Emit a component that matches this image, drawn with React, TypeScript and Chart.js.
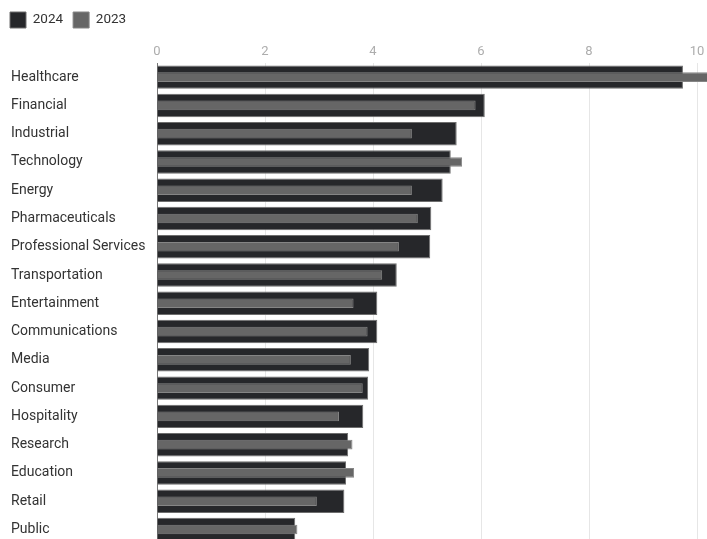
import React, { useEffect, useRef } from "react";
import { Chart, registerables } from "chart.js";

Chart.register(...registerables);

const categories = [
  "Healthcare",
  "Financial",
  "Industrial",
  "Technology",
  "Energy",
  "Pharmaceuticals",
  "Professional Services",
  "Transportation",
  "Entertainment",
  "Communications",
  "Media",
  "Consumer",
  "Hospitality",
  "Research",
  "Education",
  "Retail",
  "Public",
];

const values2024 = [9.74, 6.07, 5.55, 5.44, 5.29, 5.08, 5.06, 4.44, 4.08, 4.08, 3.93, 3.91, 3.82, 3.54, 3.5, 3.47, 2.56];
const values2023 = [10.3, 5.9, 4.72, 5.65, 4.72, 4.83, 4.48, 4.17, 3.64, 3.9, 3.59, 3.81, 3.37, 3.62, 3.65, 2.96, 2.6];

const seriesLabels = ["2024", "2023"];
const xMin = 0;
const xMax = 12;
const xStep = 2;

const FONT = "Roboto, 'Noto Sans', sans-serif";

export default function App() {
  const ref = useRef<HTMLCanvasElement>(null);

  useEffect(() => {
    document.body.style.margin = "0";
    document.body.style.overflow = "hidden";
    const shiftLegend = {
      id: "shiftLegend",
      afterLayout(chart: any) {
        if (chart.legend) chart.legend.left = 0;
      },
    };
    const chart = new Chart(ref.current!, {
      type: "bar",
      data: {
        labels: categories,
        datasets: [
          {
            label: seriesLabels[0],
            data: values2024,
            backgroundColor: "#26272a",
            borderColor: "#6e6e6e",
            borderWidth: 1,
            barPercentage: 0.83,
            categoryPercentage: 1,
            grouped: false,
            order: 1,
          },
          {
            label: seriesLabels[1],
            data: values2023,
            backgroundColor: "#666666",
            borderColor: "#858585",
            borderWidth: 1,
            barPercentage: 0.34,
            categoryPercentage: 1,
            grouped: false,
            order: 0,
          },
        ],
      },
      options: {
        indexAxis: "y",
        responsive: false,
        maintainAspectRatio: false,
        devicePixelRatio: 1,
        animation: false,
        layout: { padding: { left: 11, top: 2, right: 15, bottom: 2 } },
        plugins: {
          legend: {
            position: "top",
            align: "start",
            labels: {
              boxWidth: 16,
              boxHeight: 16,
              padding: 10,
              color: "#333",
              font: { family: FONT, size: 13.5 },
              sort: (a: any, b: any) => a.datasetIndex - b.datasetIndex,
            },
          },
          tooltip: { enabled: false },
        },
        scales: {
          x: {
            type: "linear",
            position: "top",
            min: xMin,
            max: xMax,
            afterFit: (scale: any) => {
              scale.height = 25;
            },
            ticks: {
              stepSize: xStep,
              padding: 3,
              color: "#adadad",
              font: { family: FONT, size: 13 },
            },
            grid: { color: "#e6e6e6", drawTicks: false },
            border: { display: false },
          },
          y: {
            type: "category",
            afterFit: (scale: any) => {
              scale.width = 146;
            },
            ticks: {
              crossAlign: "far",
              color: "#333",
              font: { family: FONT, size: 14 },
            },
            grid: { display: false },
            border: { display: true, color: "#777", width: 1 },
          },
        },
      } as any,
      plugins: [shiftLegend],
    });
    return () => chart.destroy();
  }, []);

  return (
    <div
      style={{
        position: "fixed",
        left: 0,
        top: 0,
        width: 707,
        height: 539,
        overflow: "hidden",
        background: "#fff",
      }}
    >
      <canvas ref={ref} width={820} height={555} style={{ display: "block" }} />
    </div>
  );
}
